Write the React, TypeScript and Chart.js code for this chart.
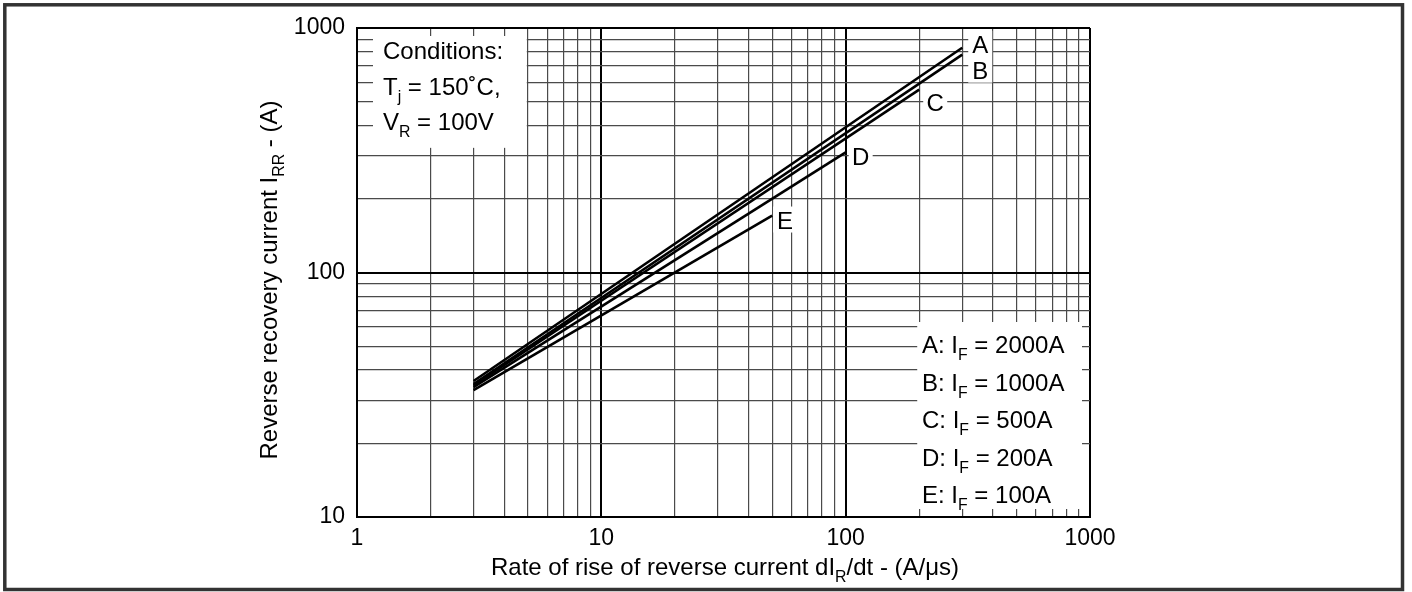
import React, { useEffect, useRef } from 'react';
import { Chart, registerables } from 'chart.js';

Chart.register(...registerables);

// ---- data ----
const seriesNames = ['A', 'B', 'C', 'D', 'E'];
const seriesCurrents = ['2000A', '1000A', '500A', '200A', '100A'];
const xStart = [3, 3, 3, 3, 3];
const yStart = [36, 35, 34.5, 34, 33];
const xEnd = [300, 300, 200, 100, 50];
const yEnd = [830, 778, 560, 310, 171];
const xTickLabels = [1, 10, 100, 1000];
const yTickLabels = [10, 100, 1000];
const conditionLines = ['Conditions:', 'Tj = 150˚C,', 'VR = 100V'];

const FONT = '"Liberation Sans", Arial, Helvetica, sans-serif';
const TXT = 24;

function gridValues(min: number, max: number): number[] {
  const out: number[] = [];
  for (let d = min; d < max; d *= 10) {
    for (let m = 1; m < 10; m++) out.push(d * m);
  }
  out.push(max);
  return out;
}
const xGrid = gridValues(1, 1000);
const yGrid = gridValues(10, 1000);
const isDecade = (v: number) => Math.abs(Math.log10(v) - Math.round(Math.log10(v))) < 1e-9;

type Part = [string, boolean];

function drawRich(ctx: CanvasRenderingContext2D, parts: Part[], x: number, y: number, align: string, size: number) {
  const sub = size * 0.66;
  let total = 0;
  const widths = parts.map(([t, s]) => {
    ctx.font = `${s ? sub : size}px ${FONT}`;
    const w = ctx.measureText(t).width;
    total += w;
    return w;
  });
  let cx = align === 'left' ? x : align === 'center' ? x - total / 2 : x - total;
  ctx.textAlign = 'left';
  ctx.textBaseline = 'alphabetic';
  parts.forEach(([t, s], i) => {
    ctx.font = `${s ? sub : size}px ${FONT}`;
    ctx.fillText(t, cx, s ? y + size * 0.3 : y);
    cx += widths[i];
  });
  return total;
}

function labelPositions(chart: any): [number, number][] {
  const xs = chart.scales.x, ys = chart.scales.y;
  const offs: [number, number][] = [[18, -4], [18, 15], [16, 12], [15, 4], [13, 4]];
  return seriesNames.map((_, i) => {
    const px = xs.getPixelForValue(xEnd[i]);
    const py = ys.getPixelForValue(yEnd[i]);
    return [px + offs[i][0], py + offs[i][1]];
  });
}

const annotationPlugin = {
  id: 'annot',
  beforeDatasetsDraw(chart: any) {
    const { ctx, chartArea, scales } = chart;
    const xs = scales.x, ys = scales.y;
    ctx.save();
    ctx.fillStyle = '#fff';
    // conditions box
    const cL = chartArea.left + 16;
    const cR = xs.getPixelForValue(5) - 1;
    const cT = chartArea.top + 8;
    const cB = ys.getPixelForValue(300) - 8;
    ctx.fillRect(cL, cT, cR - cL, cB - cT);
    // legend box
    const lL = xs.getPixelForValue(200) - 2;
    const lR = chartArea.right - 8;
    const lT = 322;
    const lB = chartArea.bottom - 8;
    ctx.fillRect(lL, lT, lR - lL, lB - lT);
    // label backgrounds
    labelPositions(chart).forEach(([lx, ly]) => {
      ctx.fillRect(lx - 12, ly - 13, 24, 26);
    });
    ctx.restore();
  },
  afterDatasetsDraw(chart: any) {
    const { ctx } = chart;
    ctx.save();
    ctx.fillStyle = '#000';
    // line labels
    ctx.font = `${TXT}px ${FONT}`;
    ctx.textAlign = 'center';
    ctx.textBaseline = 'alphabetic';
    labelPositions(chart).forEach(([lx, ly], i) => ctx.fillText(seriesNames[i], lx, ly + 9));
    // conditions
    drawRich(ctx, [[conditionLines[0], false]], 383, 59, 'left', TXT);
    drawRich(ctx, [['T', false], ['j', true], [' = 150˚C,', false]], 383, 95, 'left', TXT);
    drawRich(ctx, [['V', false], ['R', true], [' = 100V', false]], 383, 130, 'left', TXT);
    // legend
    const rows = [344, 382, 419, 457, 494];
    seriesNames.forEach((n, i) => {
      drawRich(ctx, [[n + ': I', false], ['F', true], [' = ' + seriesCurrents[i], false]], 922, rows[i] + 8.5, 'left', TXT);
    });
    // axis titles
    drawRich(ctx, [['Rate of rise of reverse current dI', false], ['R', true], ['/dt - (A/μs)', false]], 725, 575, 'center', TXT);
    ctx.save();
    ctx.translate(277, 280);
    ctx.rotate(-Math.PI / 2);
    drawRich(ctx, [['Reverse recovery current I', false], ['RR', true], [' - (A)', false]], 0, 0, 'center', TXT);
    ctx.restore();
    // outer frame
    ctx.strokeStyle = '#333';
    ctx.lineWidth = 3.5;
    ctx.strokeRect(4.8, 4.8, 1397.7, 584.7);
    ctx.restore();
  },
};

export default function App() {
  const ref = useRef<HTMLCanvasElement>(null);
  useEffect(() => {
    if (!ref.current) return;
    const chart = new Chart(ref.current, {
      type: 'line',
      data: {
        datasets: seriesNames.map((n, i) => ({
          label: n,
          data: [
            { x: xStart[i], y: yStart[i] },
            { x: xEnd[i], y: yEnd[i] },
          ],
          borderColor: '#000',
          borderWidth: 2.6,
          pointRadius: 0,
          fill: false,
          tension: 0,
        })),
      },
      options: {
        animation: false,
        responsive: false,
        maintainAspectRatio: false,
        layout: { padding: { top: 28, right: 322, left: 0, bottom: 0 } },
        plugins: { legend: { display: false }, tooltip: { enabled: false } },
        scales: {
          x: {
            type: 'logarithmic',
            min: 1,
            max: 1000,
            afterBuildTicks: (s: any) => {
              s.ticks = xGrid.map((v) => ({ value: v }));
            },
            afterFit: (s: any) => {
              s.height = 75;
            },
            ticks: {
              autoSkip: false,
              maxRotation: 0,
              padding: 8,
              color: '#000',
              font: { family: FONT, size: 23 },
              callback: (v: any) => (xTickLabels.includes(Number(v)) ? String(v) : ''),
            },
            grid: {
              drawTicks: false,
              color: (c: any) => (c.tick && isDecade(c.tick.value) ? '#000' : '#4a4a4a'),
              lineWidth: (c: any) => (c.tick && isDecade(c.tick.value) ? 2 : 1.2),
            },
            border: { color: '#000', width: 2 },
          },
          y: {
            type: 'logarithmic',
            min: 10,
            max: 1000,
            afterBuildTicks: (s: any) => {
              s.ticks = yGrid.map((v) => ({ value: v }));
            },
            afterFit: (s: any) => {
              s.width = 357;
            },
            ticks: {
              autoSkip: false,
              padding: 12,
              color: '#000',
              font: { family: FONT, size: 23 },
              callback: (v: any) => (yTickLabels.includes(Number(v)) ? String(v) : ''),
            },
            grid: {
              drawTicks: false,
              color: (c: any) => (c.tick && isDecade(c.tick.value) ? '#000' : '#4a4a4a'),
              lineWidth: (c: any) => (c.tick && isDecade(c.tick.value) ? 2 : 1.2),
            },
            border: { color: '#000', width: 2 },
          },
        },
      },
      plugins: [annotationPlugin],
    } as any);
    return () => chart.destroy();
  }, []);
  return (
    <div style={{ position: 'fixed', left: 0, top: 0, width: 1412, height: 592, background: '#fff' }}>
      <canvas ref={ref} width={1412} height={592} style={{ width: 1412, height: 592, display: 'block' }} />
    </div>
  );
}
